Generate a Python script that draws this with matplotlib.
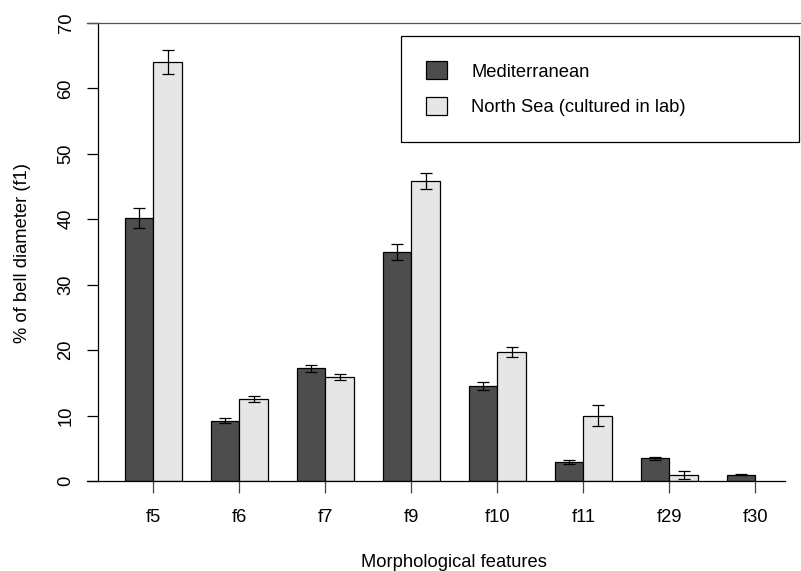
import matplotlib
matplotlib.use("Agg")
import matplotlib.pyplot as plt
from matplotlib.patches import Patch
import numpy as np

plt.rcParams['font.family'] = ['Liberation Sans', 'DejaVu Sans']

categories = ["f5", "f6", "f7", "f9", "f10", "f11", "f29", "f30"]
series_names = ["Mediterranean", "North Sea (cultured in lab)"]
med_vals = [40.2, 9.2, 17.2, 35.0, 14.5, 2.9, 3.45, 0.95]
med_err = [1.5, 0.4, 0.55, 1.15, 0.6, 0.35, 0.25, 0.05]
ns_vals = [64.0, 12.5, 15.85, 45.8, 19.7, 10.0, 0.95, 0.0]
ns_err = [1.8, 0.5, 0.45, 1.2, 0.8, 1.55, 0.65, 0.0]
yticks = [0, 10, 20, 30, 40, 50, 60, 70]

W, H = 801, 571
FS = 13.2
fig = plt.figure(figsize=(W / 100, H / 100), dpi=100)

def px(x0, y0, x1, y1):
    return [x0 / W, 1 - y1 / H, (x1 - x0) / W, (y1 - y0) / H]

ax = fig.add_axes(px(98, 23, 801, 481))
xmin, xmax = 0.07, 24.59
ax.set_xlim(xmin, xmax)
ax.set_ylim(0, 70)

n = len(categories)
idx = np.arange(n)
left_med = 1 + 3 * idx
left_ns = 2 + 3 * idx
centers = 2 + 3 * idx

dark = "#4d4d4d"
light = "#e6e6e6"
ax.bar(left_med, med_vals, width=1, align="edge", color=dark, edgecolor="black", linewidth=0.9, zorder=2)
ns_mask = np.array(ns_vals) > 0
ax.bar(left_ns[ns_mask], np.array(ns_vals)[ns_mask], width=1, align="edge", color=light,
       edgecolor="black", linewidth=0.9, zorder=2)

ax.errorbar(left_med + 0.5, med_vals, yerr=med_err, fmt="none", ecolor="black",
            elinewidth=0.9, capsize=4.3, capthick=0.9, zorder=3)
ax.errorbar(left_ns[ns_mask] + 0.5, np.array(ns_vals)[ns_mask], yerr=np.array(ns_err)[ns_mask],
            fmt="none", ecolor="black", elinewidth=0.9, capsize=4.3, capthick=0.9, zorder=3)

for s in ["top", "right", "bottom"]:
    ax.spines[s].set_visible(False)
ax.spines["left"].set_linewidth(0.9)

# horizontal lines at 0 and 70
x_left_frac = (87 - 98) / (801 - 98)
x_right_bottom = (785 - 98) / (801 - 98)
ax.plot([x_left_frac, x_right_bottom], [0, 0], color="black", lw=0.9,
        transform=ax.get_yaxis_transform(), clip_on=False, zorder=4)
ax.plot([x_left_frac, 1.0], [70, 70], color="#555555", lw=0.9,
        transform=ax.get_yaxis_transform(), clip_on=False, zorder=4)

ax.set_yticks(yticks)
ax.set_yticklabels([str(v) for v in yticks], rotation=90, va="center")
ax.tick_params(axis="y", length=7.9, width=0.9, pad=9, labelsize=FS, direction="out")
ax.set_xticks(centers)
ax.set_xticklabels(categories)
ax.tick_params(axis="x", length=8.4, width=0.9, pad=11.5, labelsize=FS, direction="out",
               color="#444444")

fig.text(454 / W, 1 - 567 / H, "Morphological features", ha="center", va="baseline", fontsize=FS)
fig.text(23 / W, 1 - 253 / H, "% of bell diameter (f1)", ha="center", va="center",
         rotation=90, fontsize=FS)

handles = [Patch(facecolor=dark, edgecolor="black", linewidth=0.9),
           Patch(facecolor=light, edgecolor="black", linewidth=0.9)]
leg = ax.legend(handles, series_names, loc="upper left",
                bbox_to_anchor=(400.7 / W, 1 - 35.7 / H, (799 - 400.7) / W, 0.0),
                bbox_transform=fig.transFigure, mode="expand", fontsize=FS,
                frameon=True, fancybox=False, edgecolor="black", framealpha=1,
                borderpad=1.4, handlelength=1.14, handleheight=1.14,
                handletextpad=1.3, labelspacing=0.9, borderaxespad=0)
leg.get_frame().set_linewidth(0.9)

fig.savefig("out.png", dpi=100)
